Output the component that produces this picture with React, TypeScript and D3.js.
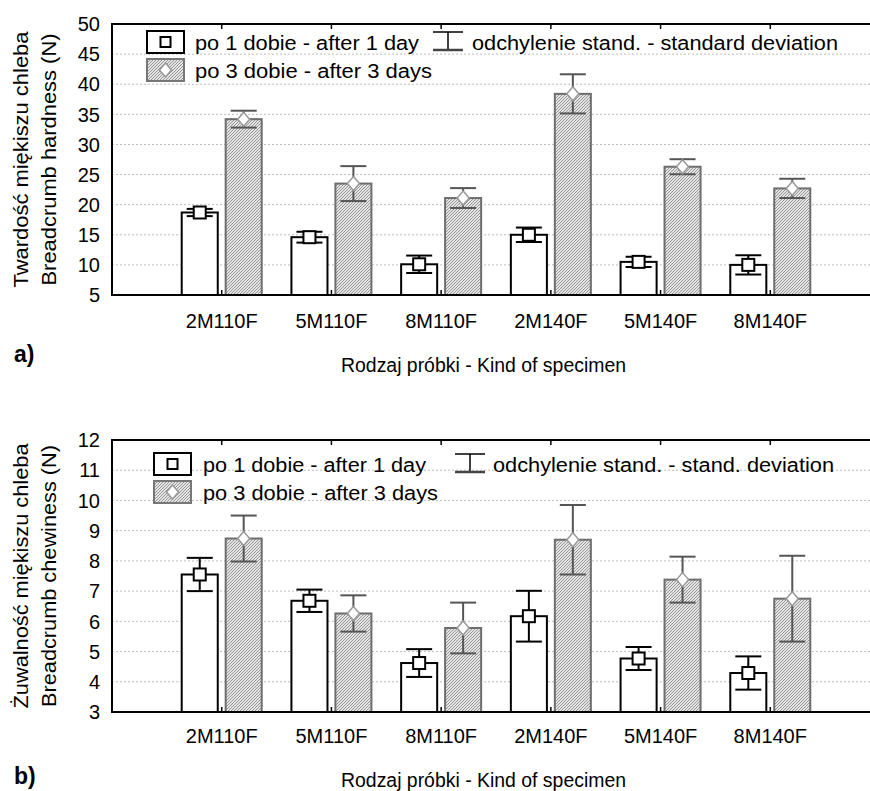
import React from "react"
import * as d3 from "d3"

// sample names on the x axis
const categories = ["2M110F", "5M110F", "8M110F", "2M140F", "5M140F", "8M140F"]

// a) hardness (N)
const hardness1 = [18.7, 14.6, 10.1, 15.0, 10.5, 10.0]
const hardness1Sd = [0.6, 0.9, 1.45, 1.2, 0.85, 1.6]
const hardness3 = [34.2, 23.5, 21.1, 38.4, 26.3, 22.7]
const hardness3Sd = [1.4, 2.9, 1.65, 3.25, 1.25, 1.6]
const hardnessTicks = [5, 10, 15, 20, 25, 30, 35, 40, 45, 50]

// b) chewiness (N)
const chewiness1 = [7.55, 6.68, 4.62, 6.17, 4.77, 4.29]
const chewiness1Sd = [0.55, 0.37, 0.46, 0.84, 0.38, 0.55]
const chewiness3 = [8.74, 6.26, 5.78, 8.7, 7.38, 6.75]
const chewiness3Sd = [0.76, 0.6, 0.84, 1.15, 0.76, 1.42]
const chewinessTicks = [3, 4, 5, 6, 7, 8, 9, 10, 11, 12]

const font = "'Liberation Sans', Arial, Helvetica, sans-serif"
const W = 870, H = 791
const left = 112

const x = d3.scalePoint<string>().domain(categories).range([left, 880]).padding(1)
const sub = d3.scaleBand<string>().domain(["d1", "d3"]).range([-40, 40]).paddingInner(0.18)

const panels = [
    {
        top: 24, bottom: 295, ticks: hardnessTicks,
        s1: hardness1, e1: hardness1Sd, s3: hardness3, e3: hardness3Sd,
        title: [["Twardość miękiszu chleba", 256], ["Breadcrumb hardness (N)", 252]],
        leg: {x: 147, y: 31, tx: 195, t1: 224, t3: 237, sx: 433, stx: 472, sLen: 366},
        sdText: "odchylenie stand. - standard deviation",
        xLabelY: 328, xTitleY: 372, tag: "a)", tagY: 362,
    },
    {
        top: 440, bottom: 712, ticks: chewinessTicks,
        s1: chewiness1, e1: chewiness1Sd, s3: chewiness3, e3: chewiness3Sd,
        title: [["Żuwalność miękiszu chleba", 265], ["Breadcrumb chewiness (N)", 262]],
        leg: {x: 154, y: 453, tx: 203, t1: 223, t3: 235, sx: 455, stx: 493, sLen: 341},
        sdText: "odchylenie stand. - stand. deviation",
        xLabelY: 743, xTitleY: 787, tag: "b)", tagY: 784,
    },
]

const diamond = (cx, cy) => `M${cx},${cy - 7}L${cx + 6},${cy}L${cx},${cy + 7}L${cx - 6},${cy}Z`

const Panel = ({p}) => {
    const y = d3.scaleLinear()
        .domain([p.ticks[0], p.ticks[p.ticks.length - 1]])
        .range([p.bottom, p.top])
    const series = [
        {key: "d1", vals: p.s1, sd: p.e1, fill: "#fff", stroke: "#000", err: "#000"},
        {key: "d3", vals: p.s3, sd: p.e3, fill: "url(#hatch)", stroke: "#6e6e6e", err: "#555"},
    ]
    const cy = (p.top + p.bottom) / 2
    const L = p.leg

    return (
        <g>
            {/* grid */}
            {p.ticks.map(t => (
                <line key={t} x1={left} x2={W} y1={y(t)} y2={y(t)}
                    stroke="#bdbdbd" strokeDasharray="2,2" strokeWidth={1} />
            ))}
            {/* bars */}
            {series.map(s => categories.map((c, i) => (
                <rect key={s.key + c} x={x(c) + sub(s.key)} width={sub.bandwidth()}
                    y={y(s.vals[i])} height={y(p.ticks[0]) - y(s.vals[i])}
                    fill={s.fill} stroke={s.stroke} strokeWidth={2} />
            )))}
            {/* error bars + markers */}
            {series.map(s => categories.map((c, i) => {
                const cx = x(c) + sub(s.key) + sub.bandwidth() / 2
                const hi = y(s.vals[i] + s.sd[i]), lo = y(s.vals[i] - s.sd[i]), m = y(s.vals[i])
                return (
                    <g key={"e" + s.key + c} stroke={s.err} strokeWidth={2}>
                        <line x1={cx} x2={cx} y1={hi} y2={lo} />
                        <line x1={cx - 13} x2={cx + 13} y1={hi} y2={hi} />
                        <line x1={cx - 13} x2={cx + 13} y1={lo} y2={lo} />
                        {s.key === "d1"
                            ? <rect x={cx - 6} y={m - 6} width={12} height={12} fill="#fff" stroke="#000" strokeWidth={2} />
                            : <path d={diamond(cx, m)} fill="#fff" stroke="#999" strokeWidth={1.5} />}
                    </g>
                )
            }))}
            {/* frame */}
            <g stroke="#000" strokeWidth={2}>
                <line x1={left} x2={W} y1={p.top} y2={p.top} />
                <line x1={left} x2={W} y1={p.bottom} y2={p.bottom} />
                <line x1={left} x2={left} y1={p.top - 1} y2={p.bottom + 1} />
            </g>
            {categories.map(c => (
                <g key={"t" + c} stroke="#000" strokeWidth={1.5}>
                    <line x1={x(c)} x2={x(c)} y1={p.top} y2={p.top + 5} />
                    <line x1={x(c)} x2={x(c)} y1={p.bottom} y2={p.bottom - 5} />
                </g>
            ))}
            {/* y tick labels */}
            {p.ticks.map(t => (
                <text key={"l" + t} x={100} y={y(t)} dy="0.36em" textAnchor="end" fontSize={20}>{t}</text>
            ))}
            {/* x tick labels */}
            {categories.map(c => (
                <text key={"x" + c} x={x(c)} y={p.xLabelY} textAnchor="middle" fontSize={20}>{c}</text>
            ))}
            <text x={341} y={p.xTitleY} fontSize={20} textLength={285} lengthAdjust="spacingAndGlyphs">
                Rodzaj próbki - Kind of specimen
            </text>
            <text x={14} y={p.tagY} fontSize={23} fontWeight="bold">{p.tag}</text>
            {/* y title */}
            {p.title.map(([t, len], k) => (
                <text key={"yt" + k} transform={`translate(${28 + k * 28},${cy}) rotate(-90)`}
                    textAnchor="middle" fontSize={20} textLength={len} lengthAdjust="spacingAndGlyphs">{t}</text>
            ))}
            {/* legend */}
            <rect x={L.x} y={L.y} width={37} height={22} fill="#fff" stroke="#000" strokeWidth={2} />
            <rect x={L.x + 13.5} y={L.y + 6} width={10} height={10} fill="#fff" stroke="#000" strokeWidth={2} />
            <text x={L.tx} y={L.y + 19} fontSize={20} textLength={L.t1} lengthAdjust="spacingAndGlyphs">
                po 1 dobie - after 1 day
            </text>
            <rect x={L.x} y={L.y + 28} width={37} height={22} fill="url(#hatch)" stroke="#777" strokeWidth={2} />
            <path d={diamond(L.x + 18.5, L.y + 39)} fill="#fff" stroke="#999" strokeWidth={1.5} />
            <text x={L.tx} y={L.y + 47} fontSize={20} textLength={L.t3} lengthAdjust="spacingAndGlyphs">
                po 3 dobie - after 3 days
            </text>
            <g strokeWidth={2}>
                <line x1={L.sx} x2={L.sx + 30} y1={L.y + 1} y2={L.y + 1} stroke="#000" strokeWidth={1.5} />
                <line x1={L.sx + 15} x2={L.sx + 15} y1={L.y + 1} y2={L.y + 19} stroke="#000" strokeWidth={1.5} />
                <line x1={L.sx} x2={L.sx + 30} y1={L.y + 19} y2={L.y + 19} stroke="#444" strokeWidth={2.5} />
            </g>
            <text x={L.stx} y={L.y + 19} fontSize={20} textLength={L.sLen} lengthAdjust="spacingAndGlyphs">
                {p.sdText}
            </text>
        </g>
    )
}

export default function App() {
    return (
        <svg width={W} height={H} style={{position: "absolute", left: 0, top: 0, background: "#fff"}}
            fontFamily={font} fill="#000">
            <defs>
                <pattern id="hatch" width={3} height={3} patternUnits="userSpaceOnUse">
                    <rect width={3} height={3} fill="#e4e4e4" />
                    <path d="M-1,1 l2,-2 M0,3 l3,-3 M2,4 l2,-2" stroke="#8e8e8e" strokeWidth={0.9} />
                </pattern>
            </defs>
            <rect width={W} height={H} fill="#fff" />
            {panels.map((p, i) => <Panel key={i} p={p} />)}
        </svg>
    )
}
